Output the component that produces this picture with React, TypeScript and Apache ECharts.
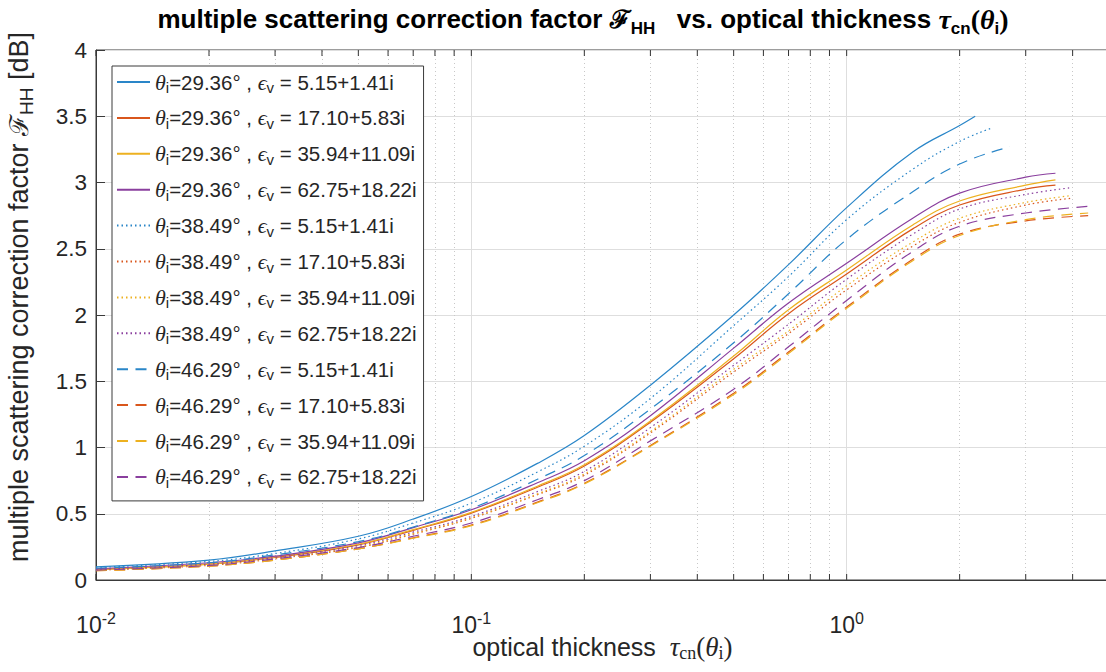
import React, { useEffect, useRef } from 'react';
import * as echarts from 'echarts';

// optical thickness sample points (log axis)
const tauGrid = [0.01, 0.02, 0.03, 0.05, 0.07, 0.1, 0.15, 0.2, 0.3, 0.5, 0.7, 1, 1.5, 2, 3];
const incidenceAngles = ['29.36', '38.49', '46.29'];
const permittivities = ['5.15+1.41i', '17.10+5.83i', '35.94+11.09i', '62.75+18.22i'];

// theta_i = 29.36°
const f29_e1 = [0.10, 0.15, 0.22, 0.33, 0.46, 0.63, 0.88, 1.09, 1.47, 2.00, 2.38, 2.81, 3.23, 3.43];
const f29_e2 = [0.08, 0.12, 0.17, 0.265, 0.375, 0.505, 0.70, 0.86, 1.19, 1.67, 2.01, 2.31, 2.65, 2.83, 2.95];
const f29_e3 = [0.08, 0.12, 0.175, 0.27, 0.38, 0.51, 0.708, 0.87, 1.20, 1.69, 2.04, 2.34, 2.68, 2.86, 2.98];
const f29_e4 = [0.085, 0.13, 0.18, 0.28, 0.395, 0.53, 0.734, 0.90, 1.24, 1.75, 2.09, 2.39, 2.73, 2.92, 3.04];
const tauEnd29 = [2.2, 3.6, 3.6, 3.6];
const fEnd29 = [3.50, 2.98, 3.02, 3.07];

// theta_i = 38.49°
const f38_e1 = [0.095, 0.14, 0.20, 0.31, 0.43, 0.58, 0.815, 1.01, 1.37, 1.92, 2.29, 2.72, 3.10, 3.31];
const f38_e2 = [0.075, 0.11, 0.16, 0.245, 0.346, 0.465, 0.644, 0.79, 1.11, 1.57, 1.86, 2.19, 2.52, 2.70, 2.83];
const f38_e3 = [0.075, 0.115, 0.165, 0.25, 0.351, 0.47, 0.65, 0.80, 1.12, 1.59, 1.88, 2.22, 2.55, 2.73, 2.85];
const f38_e4 = [0.08, 0.12, 0.17, 0.26, 0.361, 0.48, 0.667, 0.82, 1.15, 1.62, 1.93, 2.27, 2.61, 2.80, 2.91];
const tauEnd38 = [2.43, 3.94, 3.94, 3.94];
const fEnd38 = [3.41, 2.88, 2.90, 2.96];

// theta_i = 46.29°
const f46_e1 = [0.09, 0.13, 0.19, 0.29, 0.40, 0.54, 0.76, 0.94, 1.29, 1.79, 2.16, 2.57, 2.93, 3.14];
const f46_e2 = [0.07, 0.105, 0.15, 0.235, 0.318, 0.415, 0.588, 0.73, 1.015, 1.41, 1.72, 2.06, 2.42, 2.61, 2.71];
const f46_e3 = [0.07, 0.105, 0.15, 0.235, 0.315, 0.41, 0.583, 0.725, 1.01, 1.40, 1.71, 2.05, 2.41, 2.60, 2.72];
const f46_e4 = [0.075, 0.11, 0.16, 0.245, 0.33, 0.43, 0.606, 0.75, 1.05, 1.44, 1.76, 2.11, 2.48, 2.67, 2.77];
const tauEnd46 = [2.72, 4.4, 4.4, 4.4];
const fEnd46 = [3.27, 2.75, 2.77, 2.82];

const xMajorTicks = [0.01, 0.1, 1];
const xMinorTicks = [0.02, 0.03, 0.04, 0.05, 0.06, 0.07, 0.08, 0.09, 0.2, 0.3, 0.4, 0.5, 0.6, 0.7, 0.8, 0.9, 2, 3, 4];

const groups = [
  { angle: incidenceAngles[0], vals: [f29_e1, f29_e2, f29_e3, f29_e4], endX: tauEnd29, endY: fEnd29 },
  { angle: incidenceAngles[1], vals: [f38_e1, f38_e2, f38_e3, f38_e4], endX: tauEnd38, endY: fEnd38 },
  { angle: incidenceAngles[2], vals: [f46_e1, f46_e2, f46_e3, f46_e4], endX: tauEnd46, endY: fEnd46 },
];

const COLORS = ['#2a86c8', '#d9561c', '#edb120', '#8a3f9e'];
const LINE_TYPES: any[] = ['solid', [1.5, 3], [11, 7.5]];

const TXT = '#262626';

export default function App() {
  const ref = useRef<HTMLDivElement>(null);
  useEffect(() => {
    if (!ref.current) return;
    const chart = echarts.init(ref.current, undefined, { renderer: 'svg' });

    const lineSeries: any[] = [];
    const names: string[] = [];
    const richNames: Record<string, string> = {};
    groups.forEach((g, gi) => {
      g.vals.forEach((vals, ei) => {
        const name = `θi=${g.angle}° , ϵv = ${permittivities[ei]}`;
        names.push(name);
        richNames[name] = `{g|θ}{s|i}{t|=${g.angle}° , }{g|ϵ}{s|v}{t| = ${permittivities[ei]}}`;
        const data = vals.map((v, i) => [tauGrid[i], v]);
        data.push([g.endX[ei], g.endY[ei]]);
        lineSeries.push({
          type: 'line',
          name,
          data,
          symbol: 'none',
          smooth: 0.4,
          color: COLORS[ei],
          lineStyle: { color: COLORS[ei], width: 1.2, type: LINE_TYPES[gi] },
          z: 3,
        });
      });
    });

    const tickSeries = {
      type: 'custom',
      name: '__ticks',
      silent: true,
      z: 1,
      data: [...xMajorTicks, ...xMinorTicks].map((v) => [v, 0]),
      encode: { x: 0, y: 1 },
      renderItem: (params: any, api: any) => {
        const x = api.value(0);
        const b = api.coord([x, 0]);
        const t = api.coord([x, 4]);
        const len = 6;
        const st = { stroke: '#333', lineWidth: 1 };
        return {
          type: 'group',
          children: [
            { type: 'line', shape: { x1: b[0], y1: b[1], x2: b[0], y2: b[1] - len }, style: st },
            { type: 'line', shape: { x1: t[0], y1: t[1], x2: t[0], y2: t[1] + len }, style: st },
          ],
        };
      },
      markLine: {
        silent: true,
        symbol: ['none', 'none'],
        label: { show: false },
        lineStyle: { color: '#c8c8c8', width: 1, type: [1, 3] },
        data: xMinorTicks.map((v) => ({ xAxis: v })),
        animation: false,
        z: 0,
      },
    };

    const option: any = {
      animation: false,
      backgroundColor: '#ffffff',
      title: {
        text: '{b|multiple scattering correction factor }{f|ℱ}{bs|HH}{b|   vs. optical thickness }{g|τ}{bs|cn}{p|(}{g|θ}{bs|i}{p|)}',
        left: 578,
        textAlign: 'center',
        top: -4,
        textStyle: {
          rich: {
            b: { fontFamily: 'Liberation Sans', fontWeight: 'bold', fontSize: 26, color: '#000', lineHeight: 36 },
            bs: { fontFamily: 'Liberation Sans', fontWeight: 'bold', fontSize: 17, color: '#000', lineHeight: 15, verticalAlign: 'bottom' },
            f: { fontFamily: 'DejaVu Serif', fontSize: 25, color: '#000', lineHeight: 36 },
            g: { fontFamily: 'Liberation Serif', fontStyle: 'italic', fontSize: 28, color: '#000', lineHeight: 36 },
            p: { fontFamily: 'Liberation Serif', fontSize: 28, color: '#000', lineHeight: 36 },
          },
        },
      },
      grid: {
        left: 96,
        top: 50,
        width: 1013,
        height: 530,
        show: true,
        borderColor: '#3a3a3a',
        borderWidth: 1,
        backgroundColor: 'transparent',
        containLabel: false,
        outerBoundsMode: 'none',
      },
      legend: {
        data: names,
        orient: 'vertical',
        left: 112,
        top: 66,
        backgroundColor: '#ffffff',
        borderColor: '#3a3a3a',
        borderWidth: 1,
        borderRadius: 0,
        padding: [5, 7, 11, 4],
        itemWidth: 33,
        itemHeight: 14,
        itemGap: 11.9,
        selectedMode: false,
        itemStyle: { opacity: 0 },
        formatter: (name: string) => richNames[name] || name,
        textStyle: {
          color: TXT,
          rich: {
            g: { fontFamily: 'Liberation Serif', fontStyle: 'italic', fontSize: 22, color: TXT, lineHeight: 26 },
            s: { fontFamily: 'Liberation Sans', fontSize: 15, color: TXT, lineHeight: 11, verticalAlign: 'bottom' },
            t: { fontFamily: 'Liberation Sans', fontSize: 20.5, color: TXT, lineHeight: 26 },
          },
        },
      },
      xAxis: {
        type: 'log',
        logBase: 10,
        min: 0.01,
        max: 5,
        name: '{t|optical thickness  }{g|τ}{s|cn}{p|(}{g|θ}{s|i}{p|)}',
        nameLocation: 'middle',
        nameGap: 52,
        nameMoveOverlap: false,
        nameTextStyle: {
          rich: {
            t: { fontFamily: 'Liberation Sans', fontSize: 25, color: TXT, lineHeight: 30 },
            g: { fontFamily: 'Liberation Serif', fontStyle: 'italic', fontSize: 27, color: TXT, lineHeight: 30 },
            p: { fontFamily: 'Liberation Serif', fontSize: 27, color: TXT, lineHeight: 30 },
            s: { fontFamily: 'Liberation Serif', fontSize: 18, color: TXT, lineHeight: 13, verticalAlign: 'bottom' },
          },
        },
        axisLine: { show: true, lineStyle: { color: '#3a3a3a', width: 1 } },
        axisTick: { show: false },
        splitLine: { show: true, lineStyle: { color: '#dedede', width: 1 } },
        axisLabel: {
          margin: 30,
          formatter: (v: number) => {
            const e = Math.round(Math.log10(v));
            if (Math.abs(Math.pow(10, e) - v) > 1e-9 * v) return '';
            return `{n|10}{sup|${e}}`;
          },
          rich: {
            n: { fontFamily: 'Liberation Sans', fontSize: 23, color: TXT, lineHeight: 30 },
            sup: { fontFamily: 'Liberation Sans', fontSize: 16, color: TXT, lineHeight: 14, verticalAlign: 'top' },
          },
        },
      },
      yAxis: {
        type: 'value',
        min: 0,
        max: 4,
        interval: 0.5,
        name: '{sp| }{t|multiple scattering correction factor }{f|ℱ}{s|HH}{t| [dB]}',
        nameLocation: 'middle',
        nameRotate: 90,
        nameGap: 60,
        nameMoveOverlap: false,
        nameTextStyle: {
          rich: {
            sp: { width: 36, fontSize: 10, lineHeight: 34 },
            t: { fontFamily: 'Liberation Sans', fontSize: 27, color: TXT, lineHeight: 34 },
            f: { fontFamily: 'DejaVu Serif', fontSize: 26, color: TXT, lineHeight: 34 },
            s: { fontFamily: 'Liberation Sans', fontSize: 19, color: TXT, lineHeight: 15, verticalAlign: 'bottom' },
          },
        },
        axisLine: { show: true, lineStyle: { color: '#3a3a3a', width: 1 } },
        axisTick: { show: true, inside: true, length: 9, lineStyle: { color: '#3a3a3a' } },
        splitLine: { show: true, lineStyle: { color: '#dedede', width: 1 } },
        axisLabel: {
          margin: 9,
          fontFamily: 'Liberation Sans',
          fontSize: 22.5,
          color: TXT,
        },
      },
      series: [tickSeries, ...lineSeries],
    };

    chart.setOption(option);
    return () => chart.dispose();
  }, []);

  return (
    <div
      ref={ref}
      style={{ position: 'fixed', left: 0, top: 0, width: 1106, height: 672, background: '#fff' }}
    />
  );
}
